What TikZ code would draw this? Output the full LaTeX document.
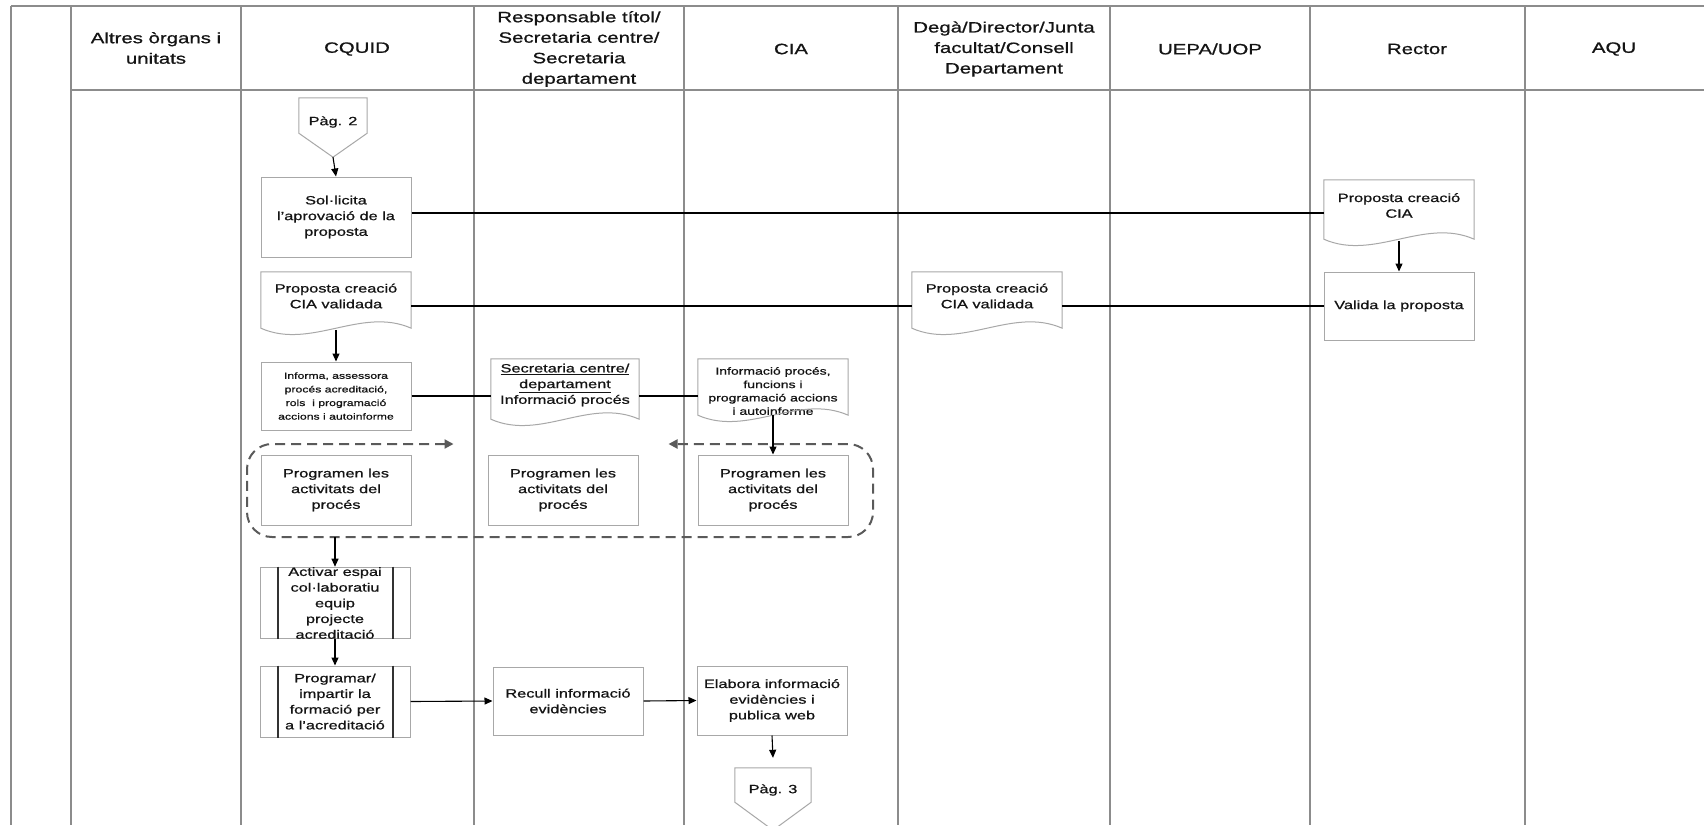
\documentclass[tikz,border=0pt]{standalone}
\usepackage{fontspec}
\setmainfont{Liberation Sans}[FakeStretch=1.36,FakeBold=0.8]
\usetikzlibrary{arrows.meta}
\definecolor{txt}{HTML}{141414}
\definecolor{colline}{HTML}{8C8C8C}
\definecolor{boxc}{HTML}{A8A8A8}
\definecolor{dashc}{HTML}{5A5A5A}
\newcommand{\hdrfont}{\fontsize{15}{20.5}\selectfont}
\newcommand{\bodyfont}{\fontsize{12}{15.7}\selectfont}
\newcommand{\smallfnt}{\fontsize{9}{13.6}\selectfont}
\newcommand{\ciafnt}{\fontsize{10.3}{13.4}\selectfont}
\newcommand{\docout}[2]{%
  \coordinate (#1-se) at ([yshift=#2pt]#1.south east);
  \coordinate (#1-sw) at ([yshift=#2pt]#1.south west);
  \draw[docline] (#1.north west) -- (#1.north east) -- (#1-se)
    .. controls ([shift={(-50pt,22pt)}]#1-se) and ([shift={(50pt,-22pt)}]#1-sw) .. (#1-sw) -- cycle;}
\newcommand{\pgout}[3]{%
  \draw[docline] (#1.north west) -- (#1.north east) -- ([yshift=#2pt]#1.south east)
    -- ([yshift=#3pt]#1.south) -- ([yshift=#2pt]#1.south west) -- cycle;}
\newcommand{\ppbars}[1]{%
  \draw[barline] ([xshift=18pt]#1.north west) -- ([xshift=18pt]#1.south west);
  \draw[barline] ([xshift=-18pt]#1.north east) -- ([xshift=-18pt]#1.south east);}
\begin{document}
\begin{tikzpicture}[x=1pt,y=-1pt,
  hdr/.style={align=center, font=\hdrfont, text=txt, inner sep=0},
  col/.style={draw=colline, line width=1.4pt},
  box/.style={draw=boxc, line width=1pt, fill=white, align=center, font=\bodyfont, text=txt, inner sep=0, minimum width=150pt},
  nobox/.style={align=center, font=\bodyfont, text=txt, inner sep=0, minimum width=150pt},
  docline/.style={draw=boxc, line width=1pt},
  barline/.style={draw=black!80, line width=2pt},
  conn/.style={line width=1.1pt, draw=black},
  arr/.style={conn, -{Triangle[length=8pt,width=7pt]}},
  grpline/.style={draw=dashc, line width=2pt, dash pattern=on 10pt off 6pt, rounded corners=25pt},
]
\useasboundingbox (0,0) rectangle (1704,825);
\clip (0,0) rectangle (1704,825);
\fill[white] (0,0) rectangle (1704,825);
% swimlanes
\foreach \x in {11,71,241,474,684,898,1110,1310,1525} \draw[col] (\x,6) -- (\x,825);
\draw[col] (11,6) -- (1704,6);
\draw[col] (71,90) -- (1704,90);
\node[hdr] (h1) at (156,48) {Altres òrgans i\\unitats};
\node[hdr] (h2) at (357,49) {CQUID};
\node[hdr] (h3) at (579,49) {Responsable títol/\\Secretaria centre/\\Secretaria\\departament};
\node[hdr] (h4) at (791,49) {CIA};
\node[hdr] (h5) at (1004,49) {Degà/Director/Junta\\facultat/Consell\\Departament};
\node[hdr] (h6) at (1210,49) {UEPA/UOP};
\node[hdr] (h7) at (1417,49) {Rector};
\node[hdr] (h8) at (1614,49) {AQU};
% nodes
\node[nobox, minimum width=68pt, minimum height=48pt] (pag2) at (333,122) {Pàg. 2};
\pgout{pag2}{13}{-11}
\node[box, minimum height=80pt] (sol) at (336,217) {Sol·licita\\l'aprovació de la\\proposta};
\node[nobox, minimum height=51pt] (rdoc) at (1399,205.5) {Proposta creació\\CIA};
\docout{rdoc}{-8}
\node[box, minimum height=68pt] (val) at (1399,306) {Valida la proposta};
\node[nobox, minimum height=48pt] (cqdoc) at (336,296) {Proposta creació\\CIA validada};
\docout{cqdoc}{-8}
\node[nobox, minimum height=48pt] (ddoc) at (987,296) {Proposta creació\\CIA validada};
\docout{ddoc}{-8}
\node[box, minimum height=68pt, font=\smallfnt] (inf) at (336,396) {Informa, assessora\\procés acreditació,\\rols\ \ i programació\\accions i autoinforme};
\node[nobox, minimum height=52pt, minimum width=148pt] (sdoc) at (565,385) {\underline{Secretaria centre/}\\\underline{departament}\\Informació procés};
\docout{sdoc}{-8}
\node[nobox, minimum height=64pt, font=\ciafnt] (cdoc) at (773,391) {Informació procés,\\funcions i\\programació accions\\i autoinforme};
\docout{cdoc}{8}
\node[box, minimum height=70pt] (pq) at (336,490) {Programen les\\activitats del\\procés};
\node[box, minimum height=70pt] (pr) at (563,490) {Programen les\\activitats del\\procés};
\node[box, minimum height=70pt] (pc) at (773,490) {Programen les\\activitats del\\procés};
\node[box, minimum height=71pt] (act) at (335,603) {Activar espai\\col·laboratiu\\equip\\projecte\\acreditació};
\ppbars{act}
\node[box, minimum height=71pt] (prog) at (335,701.5) {Programar/\\impartir la\\formació per\\a l'acreditació};
\ppbars{prog}
\node[box, minimum height=68pt] (rec) at (568,701) {Recull informació\\evidències};
\node[box, minimum height=69pt] (elab) at (772,700.5) {Elabora informació\\evidències i\\publica web};
\node[nobox, minimum width=76pt, minimum height=44pt] (pag3) at (773,790) {Pàg. 3};
\pgout{pag3}{10}{-18}
% group
\coordinate (gnw) at (247,444);
\coordinate (gse) at (873,537);
\draw[grpline, {Triangle[length=9pt,width=9pt]}-{Triangle[length=9pt,width=9pt]}]
  ([xshift=-34pt]pr.west |- gnw) -- (gnw) -- (gnw |- gse) -- (gse) -- (gse |- gnw) -- ([xshift=30pt]pr.east |- gnw);
% connectors
\draw[arr] ([yshift=-11pt]pag2.south) -- (sol.north);
\coordinate (l1) at ([yshift=4pt]sol.east);
\draw[conn] (l1) -- (l1 -| rdoc.west);
\draw[arr] ([yshift=-10pt]rdoc.south) -- (val.north);
\draw[conn] (cqdoc.east |- val.west) -- (ddoc.west |- val.west);
\draw[conn] (ddoc.east |- val.west) -- (val.west);
\draw[arr] ([yshift=-10pt]cqdoc.south) -- (inf.north);
\draw[conn] (inf.east) -- (inf.east -| sdoc.west);
\draw[conn] (sdoc.east |- inf.east) -- (cdoc.west |- inf.east);
\draw[arr] ([yshift=8pt]cdoc.south) -- (pc.north);
\draw[arr] (act.north |- gse) -- (act.north);
\draw[arr] (act.south) -- (prog.north);
\draw[arr] (prog.east) -- (rec.west);
\draw[arr] (rec.east) -- (elab.west);
\draw[arr] (elab.south) -- ([yshift=10pt]pag3.north);
\end{tikzpicture}
\end{document}
